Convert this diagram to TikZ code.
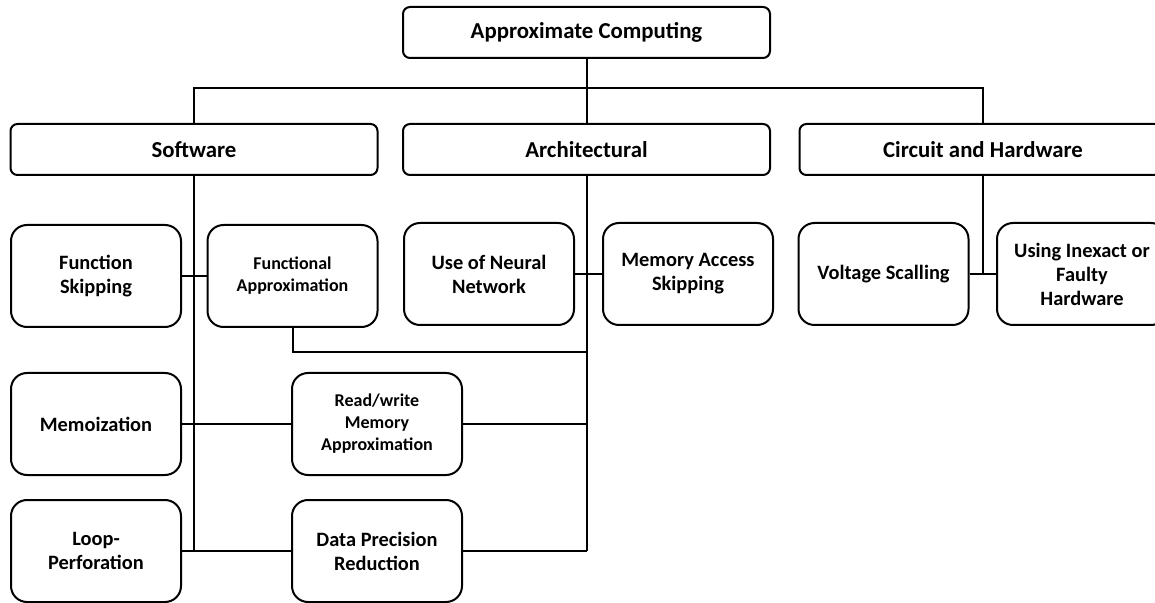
\documentclass[tikz,border=0pt]{standalone}
\usepackage{fontspec}
\setmainfont{Carlito}
\usepackage{tikz}

\begin{document}
\begin{tikzpicture}
 [x=0.5pt, y=-0.5pt, line width=1pt,
  head node/.style={draw, rounded corners=3.5pt, minimum width=183.5pt, minimum height=25.5pt, font=\fontsize{11.4}{13}\selectfont\bfseries},
  leaf node/.style={draw, rounded corners=8pt, minimum width=85pt, minimum height=51pt, align=center, font=\fontsize{10.2}{12}\selectfont\bfseries},
  small node/.style={leaf node, font=\fontsize{9}{11}\selectfont\bfseries}]

\useasboundingbox (0,0) rectangle (1155,603);
\clip (0,0) rectangle (1155,603);

\node[head node] (ac) at (586.5,32.5) {Approximate Computing};
\node[head node] (sw) at (194,149.5) {Software};
\node[head node] (ar) at (586.5,149.5) {Architectural};
\node[head node] (ch) at (983,149.5) {Circuit and Hardware};

\node[leaf node] (fs) at (96,276) {Function\\Skipping};
\node[small node] (fa) at (292.5,276) {Functional\\Approximation};
\node[leaf node] (nn) at (489,274) {Use of Neural\\Network};
\node[leaf node] (ma) at (688,274) {Memory Access\\Skipping};
\node[leaf node] (vs) at (883.5,274) {Voltage Scalling};
\node[leaf node] (ui) at (1082,274) {Using Inexact or\\Faulty\\Hardware};
\node[leaf node] (me) at (96,424) {Memoization};
\node[small node] (rw) at (377,424) {Read/write\\Memory\\Approximation};
\node[leaf node] (lp) at (96,551) {Loop-\\Perforation};
\node[leaf node] (dp) at (377,551) {Data Precision\\Reduction};

\coordinate (bus) at (ac.south |- 0,88);
\coordinate (swend) at (sw.south |- lp.east);
\coordinate (arend) at (ar.south |- dp.east);
\coordinate (fajoin) at (ar.south |- 0,352);
\coordinate (rwjoin) at (ar.south |- rw.east);
\coordinate (chend) at (ch.south |- vs.east);

% top level
\draw (ac.south) -- (ar.north);
\draw (sw.north) |- (bus) -| (ch.north);

% software
\draw (sw.south) -- (swend);
\draw (fs) -- (fa);
\draw (me) -- (rw);
\draw (lp) -- (dp);

% architectural
\draw (ar.south) -- (arend);
\draw (nn) -- (ma);
\draw (fa.south) |- (fajoin);
\draw (rw.east) -- (rwjoin);
\draw (dp.east) -- (arend);

% circuit
\draw (ch.south) -- (chend);
\draw (vs) -- (ui);

\end{tikzpicture}
\end{document}
